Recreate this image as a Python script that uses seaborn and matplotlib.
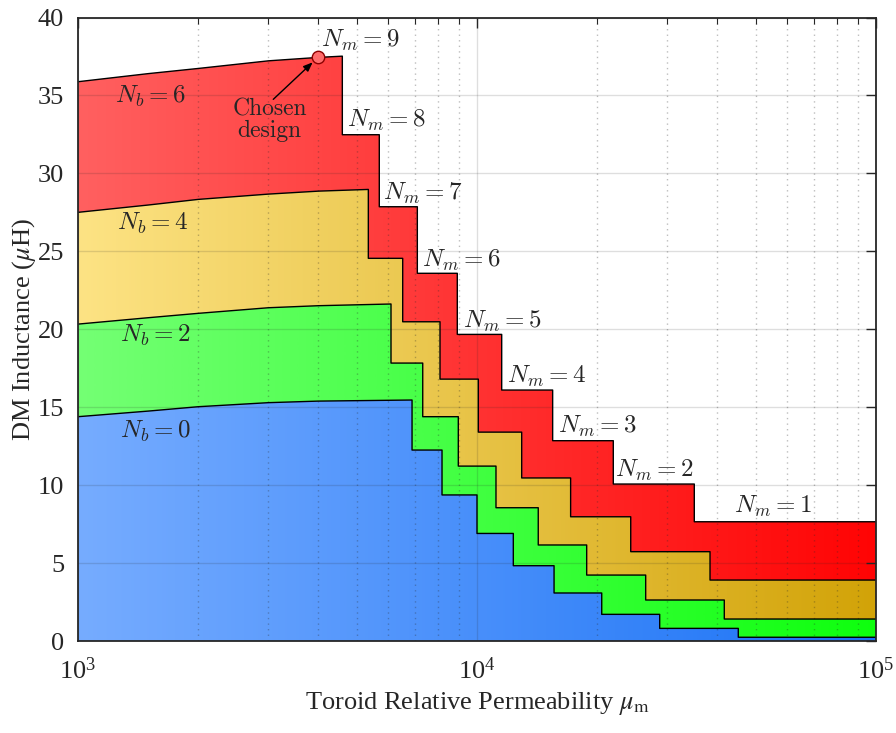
import numpy as np
import matplotlib
matplotlib.use("Agg")
import matplotlib.pyplot as plt
import seaborn as sns
from matplotlib.path import Path
from matplotlib.colors import LinearSegmentedColormap
from matplotlib.ticker import LogLocator, LogFormatterSciNotation, NullFormatter

# ---------------- data ----------------
nb_values = [6, 4, 2, 0]
nm_values = [9, 8, 7, 6, 5, 4, 3, 2, 1]

# smooth part of each boundary (mu, inductance uH)
curve_mu = {
    6: [1000, 1500, 2000, 3000, 4000, 4597],
    4: [1000, 1500, 2000, 3000, 4000, 5341],
    2: [1000, 1500, 2000, 3000, 4000, 6088],
    0: [1000, 1500, 2000, 3000, 4000, 6874],
}
curve_L = {
    6: [35.88, 36.40, 36.73, 37.22, 37.44, 37.52],
    4: [27.50, 27.97, 28.33, 28.67, 28.86, 28.97],
    2: [20.33, 20.74, 21.02, 21.38, 21.51, 21.62],
    0: [14.39, 14.75, 15.03, 15.29, 15.39, 15.46],
}
# step edges (mu where the next, lower level begins) and the levels
step_mu = {
    6: [4597, 5690, 7087, 8925, 11532, 15475, 21958, 35043],
    4: [5341, 6513, 8078, 10076, 12942, 17165, 24282, 38371],
    2: [6088, 7311, 8977, 11158, 14240, 18832, 26470, 41665],
    0: [6874, 8172, 10000, 12331, 15600, 20540, 28700, 45170],
}
step_L = {
    6: [32.48, 27.86, 23.59, 19.67, 16.10, 12.85, 10.07, 7.65],
    4: [24.55, 20.48, 16.80, 13.40, 10.46, 7.97, 5.73, 3.91],
    2: [17.83, 14.39, 11.22, 8.55, 6.16, 4.23, 2.63, 1.41],
    0: [12.25, 9.37, 6.90, 4.83, 3.08, 1.71, 0.81, 0.24],
}
mu_max = 1e5

# chosen design point
chosen_mu = 4000
chosen_L = 37.46

# label anchors
nm_label_mu = [4055, 4723, 5814, 7267, 9208, 11909, 15990, 22180, 44150]
nm_label_L = [38.55, 33.40, 28.74, 24.45, 20.52, 16.95, 13.75, 10.97, 8.61]
nb_label_mu = [1238, 1250, 1274, 1274]
nb_label_L = [34.96, 26.80, 19.63, 13.43]

# gradient colours (left -> right)
grad_colors = {
    6: [(255, 96, 96), (255, 4, 4)],
    4: [(253, 227, 132), (210, 163, 8)],
    2: [(116, 255, 116), (14, 255, 14)],
    0: [(118, 172, 255), (26, 114, 246)],
}

# ---------------- styling ----------------
sns.set_style("white")
plt.rcParams["font.family"] = ["Liberation Serif", "DejaVu Serif"]
plt.rcParams["mathtext.fontset"] = "stix"

fig = plt.figure(figsize=(8.96, 7.33), dpi=100)
ax = fig.add_axes([78 / 896, 1 - 641 / 733, (876 - 78) / 896, (641 - 17.5) / 733])
ax.set_xscale("log")
ax.set_xlim(1e3, 1e5)
ax.set_ylim(0, 40)
ax.set_autoscale_on(False)


def boundary(nb):
    xs = list(curve_mu[nb])
    ys = list(curve_L[nb])
    prev = ys[-1]
    for e, lev in zip(step_mu[nb], step_L[nb]):
        xs += [e, e]
        ys += [prev, lev]
        prev = lev
    xs.append(mu_max)
    ys.append(prev)
    return np.array(xs, float), np.array(ys, float)


for nb in nb_values:
    xs, ys = boundary(nb)
    c0, c1 = grad_colors[nb]
    cmap = LinearSegmentedColormap.from_list(
        f"g{nb}", [tuple(v / 255 for v in c0), tuple(v / 255 for v in c1)])
    grad = np.linspace(0, 1, 512).reshape(1, -1)
    im = ax.imshow(grad, cmap=cmap, extent=(0, 1, 0, 1), transform=ax.transAxes,
                   aspect="auto", interpolation="bilinear", zorder=1)
    verts = np.column_stack([np.r_[xs, xs[-1], xs[0], xs[0]],
                             np.r_[ys, 0, 0, ys[0]]])
    im.set_clip_path(Path(verts, closed=True), ax.transData)
    sns.lineplot(x=xs, y=ys, ax=ax, color="black", lw=1.0,
                 estimator=None, sort=False, zorder=3)

ax.set_xlim(1e3, 1e5)
ax.set_ylim(0, 40)

# chosen design marker and arrow
sns.scatterplot(x=[chosen_mu], y=[chosen_L], ax=ax, s=80, color=(1, 0.42, 0.42),
                edgecolor=(0.55, 0, 0), linewidth=1.0, zorder=5)
ax.annotate("", xy=(chosen_mu, chosen_L), xytext=(3086, 34.75),
            arrowprops=dict(arrowstyle="-|>,head_length=0.55,head_width=0.22",
                            color="black", lw=1.0, shrinkA=0, shrinkB=5.5),
            zorder=6)
ax.text(3018, 33.4, "Chosen\ndesign", family="cmr10", fontsize=17,
        ha="center", va="center", linespacing=0.95, zorder=6)

for nm, x, y in zip(nm_values, nm_label_mu, nm_label_L):
    ax.text(x, y, rf"$N_m = {nm}$", fontsize=18, math_fontfamily="cm",
            ha="left", va="center", zorder=6)
for nb, x, y in zip(nb_values, nb_label_mu, nb_label_L):
    ax.text(x, y, rf"$N_b = {nb}$", fontsize=18, math_fontfamily="cm",
            ha="left", va="center", zorder=6)

# axes, ticks, grid
ax.set_yticks(np.arange(0, 41, 5))
ax.xaxis.set_major_locator(LogLocator(base=10, numticks=10))
ax.xaxis.set_minor_locator(LogLocator(base=10, subs=np.arange(2, 10), numticks=100))
ax.xaxis.set_major_formatter(LogFormatterSciNotation())
ax.xaxis.set_minor_formatter(NullFormatter())
ax.tick_params(which="both", direction="in", top=True, right=True,
               color="#262626", labelsize=19, labelcolor="#262626")
ax.tick_params(which="major", length=7, width=1.0)
ax.tick_params(which="minor", length=4, width=0.8)
ax.tick_params(axis="x", which="major", pad=12)
ax.tick_params(axis="y", which="major", pad=10)
for s in ax.spines.values():
    s.set_visible(True)
    s.set_color("#262626")
    s.set_linewidth(1.3)
    s.set_zorder(7)

ax.set_axisbelow(False)
ax.grid(which="major", color="#262626", alpha=0.15, lw=1.0)
ax.grid(which="minor", axis="x", color="#262626", alpha=0.3, lw=1.0,
        linestyle=(0, (1, 3)))

ax.set_xlabel(r"Toroid Relative Permeability $\mu_\mathrm{m}$", fontsize=19,
              color="#262626", labelpad=4)
ax.set_ylabel(r"DM Inductance ($\mu$H)", fontsize=19, color="#262626", labelpad=0)

fig.savefig("out.png", dpi=100)
